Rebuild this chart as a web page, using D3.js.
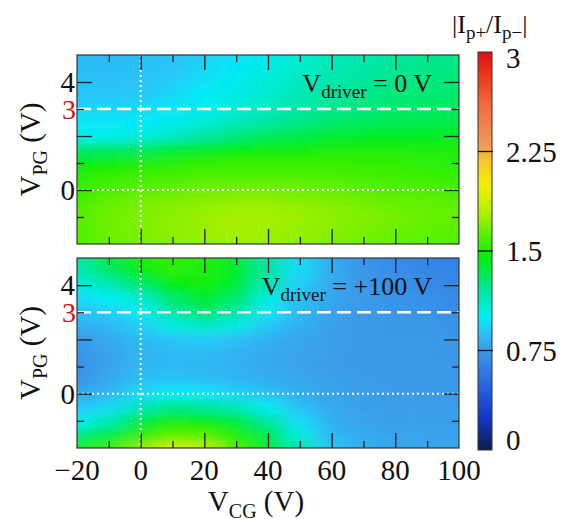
<!DOCTYPE html>
<html>
  <head>
    <meta charset="utf-8">
    <script src="https://d3js.org/d3.v7.min.js"></script>
    <style>
      body { margin: 0; background: #fff; }
      text { font-family: "Liberation Serif", "Times New Roman", serif; fill: #111; }
    </style>
  </head>
  <body>
    <svg width="571" height="519" id="svg1"></svg>
    <script>

    // grid of the two maps: V_CG columns, V_PG rows (top row = 5 V)
    var vcg = [-20, -10, 0, 10, 20, 30, 40, 50, 60, 70, 80, 90, 100];
    var vpg = [5, 4.5, 4, 3.5, 3, 2.5, 2, 1.5, 1, 0.5, 0, -0.5, -1, -1.5, -2];

    // |Ip+/Ip-| , V_driver = 0 V
    var ratioDriver0 = [
      [0.86,0.86,0.87,0.89,0.92,0.97,1.02,1.08,1.13,1.17,1.20,1.22,1.24],
      [0.87,0.87,0.88,0.90,0.94,0.99,1.05,1.10,1.15,1.19,1.22,1.24,1.26],
      [0.88,0.88,0.89,0.92,0.97,1.02,1.08,1.13,1.18,1.21,1.24,1.26,1.28],
      [0.90,0.90,0.91,0.94,1.00,1.05,1.10,1.16,1.20,1.24,1.27,1.28,1.30],
      [0.94,0.94,0.95,0.98,1.02,1.08,1.13,1.19,1.23,1.27,1.30,1.31,1.32],
      [0.98,0.98,0.99,1.03,1.08,1.14,1.20,1.25,1.29,1.32,1.34,1.35,1.36],
      [1.02,1.03,1.06,1.12,1.20,1.27,1.32,1.36,1.39,1.41,1.42,1.42,1.42],
      [1.30,1.30,1.32,1.38,1.42,1.45,1.47,1.48,1.50,1.50,1.50,1.50,1.50],
      [1.45,1.48,1.50,1.52,1.54,1.55,1.55,1.55,1.55,1.55,1.54,1.53,1.52],
      [1.52,1.55,1.57,1.58,1.60,1.60,1.60,1.60,1.59,1.58,1.57,1.56,1.55],
      [1.55,1.60,1.62,1.64,1.66,1.67,1.67,1.66,1.64,1.62,1.60,1.60,1.58],
      [1.58,1.64,1.67,1.70,1.72,1.74,1.74,1.72,1.70,1.67,1.64,1.63,1.62],
      [1.60,1.66,1.69,1.72,1.75,1.77,1.77,1.75,1.72,1.70,1.67,1.65,1.63],
      [1.60,1.66,1.69,1.72,1.75,1.77,1.76,1.74,1.71,1.68,1.65,1.63,1.62],
      [1.58,1.64,1.68,1.71,1.73,1.75,1.74,1.72,1.69,1.66,1.64,1.62,1.60]
    ];

    // |Ip+/Ip-| , V_driver = +100 V
    var ratioDriver100 = [
      [1.20,1.35,1.50,1.55,1.50,1.40,1.20,0.95,0.80,0.72,0.68,0.65,0.63],
      [1.15,1.30,1.45,1.52,1.50,1.42,1.20,0.95,0.80,0.73,0.69,0.66,0.64],
      [1.05,1.15,1.30,1.45,1.48,1.40,1.15,0.92,0.80,0.74,0.70,0.68,0.66],
      [0.95,1.00,1.10,1.30,1.40,1.30,1.05,0.88,0.79,0.75,0.72,0.70,0.68],
      [0.88,0.92,1.00,1.20,1.30,1.20,0.98,0.85,0.78,0.75,0.73,0.72,0.70],
      [0.82,0.85,0.92,1.05,1.12,1.05,0.90,0.82,0.77,0.75,0.74,0.73,0.72],
      [0.75,0.80,0.86,0.90,0.92,0.88,0.83,0.79,0.76,0.75,0.74,0.74,0.73],
      [0.72,0.78,0.84,0.86,0.86,0.84,0.80,0.78,0.76,0.75,0.75,0.74,0.74],
      [0.70,0.78,0.85,0.86,0.85,0.83,0.80,0.78,0.76,0.75,0.75,0.75,0.74],
      [0.72,0.80,0.88,0.90,0.88,0.85,0.82,0.79,0.77,0.76,0.75,0.75,0.75],
      [0.80,0.85,0.95,1.00,0.98,0.94,0.88,0.82,0.78,0.76,0.76,0.75,0.75],
      [0.90,0.95,1.15,1.25,1.22,1.15,1.02,0.88,0.80,0.77,0.76,0.76,0.76],
      [1.00,1.15,1.38,1.48,1.45,1.38,1.20,0.95,0.82,0.78,0.77,0.77,0.77],
      [1.25,1.35,1.52,1.62,1.60,1.50,1.35,1.05,0.85,0.80,0.78,0.78,0.78],
      [1.50,1.55,1.72,1.88,1.80,1.58,1.42,1.15,0.90,0.82,0.79,0.79,0.79]
    ];

    var xTicks = [-20, 0, 20, 40, 60, 80, 100];
    var yTickLabels = [0, 4];
    var cbarTicks = [0, 0.75, 1.5, 2.25, 3];

    // colour map stops
    var cmapValues = [0, 0.25, 0.5, 0.75, 0.9, 1.0, 1.2, 1.45, 1.6, 1.8, 2.0, 2.2, 2.3, 2.6, 2.85, 3.0];
    var cmapColors = ["#0b1d4f", "#1238c8", "#2a66e0", "#3b9ae9", "#28c6f8", "#00eef8", "#00e6a0", "#00ee10",
                      "#50f000", "#b4f000", "#f4f000", "#f8c030", "#f29a58", "#f26a40", "#ec3018", "#dc1010"];

    var svg = d3.select("#svg1");
    var color = d3.scaleLinear().domain(cmapValues).range(cmapColors).clamp(true);

    var xScale = d3.scaleLinear().domain([-20, 100]).range([77, 459]);
    var panels = [
      { data: ratioDriver0, top: 55, bottom: 244, label: " = 0 V", ly: 92 },
      { data: ratioDriver100, top: 258, bottom: 448, label: " = +100 V", ly: 295 }
    ];

    var defs = svg.append("defs");
    defs.append("filter")
        .attr("id", "smooth")
        .attr("filterUnits", "userSpaceOnUse")
        .attr("x", 0).attr("y", 0).attr("width", 571).attr("height", 519)
      .append("feGaussianBlur")
        .attr("stdDeviation", "11 5");

    // cell edges halfway between grid points, outer edges pushed out
    function edges(vals, scale, pad) {
      var px = vals.map(scale);
      return px.map(function(p, i) {
        var lo = i > 0 ? (p + px[i - 1]) / 2 : p - (px[1] - p) / 2 - pad * Math.sign(px[1] - p);
        var hi = i < px.length - 1 ? (p + px[i + 1]) / 2 : p + (p - px[i - 1]) / 2 + pad * Math.sign(p - px[i - 1]);
        return [Math.min(lo, hi), Math.max(lo, hi)];
      });
    }

    panels.forEach(function(pn, k) {
      var yScale = d3.scaleLinear().domain([-2, 5]).range([pn.bottom, pn.top]);
      var x0 = xScale.range()[0], x1 = xScale.range()[1];

      defs.append("clipPath").attr("id", "clip" + k)
        .append("rect")
        .attr("x", x0).attr("y", pn.top)
        .attr("width", x1 - x0).attr("height", pn.bottom - pn.top);

      var xe = edges(vcg, xScale, 30), ye = edges(vpg, yScale, 20);
      var cells = [];
      pn.data.forEach(function(row, r) {
        row.forEach(function(v, c) { cells.push({ r: r, c: c, v: v }); });
      });

      svg.append("g").attr("clip-path", "url(#clip" + k + ")")
        .append("g").attr("filter", "url(#smooth)")
        .selectAll("rect")
        .data(cells)
        .enter().append("rect")
        .attr("x", function(d) { return xe[d.c][0]; })
        .attr("y", function(d) { return ye[d.r][0]; })
        .attr("width", function(d) { return xe[d.c][1] - xe[d.c][0] + 0.5; })
        .attr("height", function(d) { return ye[d.r][1] - ye[d.r][0] + 0.5; })
        .attr("fill", function(d) { return color(d.v); });

      var g = svg.append("g");

      // guide lines
      g.append("line")
        .attr("x1", x0).attr("x2", x1)
        .attr("y1", yScale(3)).attr("y2", yScale(3))
        .attr("stroke", "#fff").attr("stroke-width", 2.5)
        .attr("stroke-dasharray", "14,6");
      g.append("line")
        .attr("x1", x0).attr("x2", x1)
        .attr("y1", yScale(0)).attr("y2", yScale(0))
        .attr("stroke", "#fff").attr("stroke-width", 2)
        .attr("stroke-dasharray", "2,3");
      g.append("line")
        .attr("x1", xScale(0)).attr("x2", xScale(0))
        .attr("y1", pn.top).attr("y2", pn.bottom)
        .attr("stroke", "#fff").attr("stroke-width", 2)
        .attr("stroke-dasharray", "2,3");

      // ticks inside on all four sides: long every 20 V / 2 V, short in between
      var xMinor = [-10, 10, 30, 50, 70, 90], xMajor = [0, 20, 40, 60, 80];
      var yMinor = [-1, 1, 3], yMajor = [0, 2, 4];
      g.append("g").call(d3.axisBottom(xScale).tickValues(xMinor).tickSize(-7).tickFormat(""))
        .attr("transform", "translate(0," + pn.bottom + ")");
      g.append("g").call(d3.axisBottom(xScale).tickValues(xMajor).tickSize(-15).tickFormat(""))
        .attr("transform", "translate(0," + pn.bottom + ")");
      g.append("g").call(d3.axisTop(xScale).tickValues(xMinor).tickSize(-7).tickFormat(""))
        .attr("transform", "translate(0," + pn.top + ")");
      g.append("g").call(d3.axisTop(xScale).tickValues(xMajor).tickSize(-15).tickFormat(""))
        .attr("transform", "translate(0," + pn.top + ")");
      g.append("g").call(d3.axisLeft(yScale).tickValues(yMinor).tickSize(-7).tickFormat(""))
        .attr("transform", "translate(" + x0 + ",0)");
      g.append("g").call(d3.axisLeft(yScale).tickValues(yMajor).tickSize(-15).tickFormat(""))
        .attr("transform", "translate(" + x0 + ",0)");
      g.append("g").call(d3.axisRight(yScale).tickValues(yMinor).tickSize(-7).tickFormat(""))
        .attr("transform", "translate(" + x1 + ",0)");
      g.append("g").call(d3.axisRight(yScale).tickValues(yMajor).tickSize(-15).tickFormat(""))
        .attr("transform", "translate(" + x1 + ",0)");
      g.selectAll(".domain").remove();
      g.selectAll(".tick line").attr("stroke", "#222").attr("stroke-width", 1.3);

      g.append("rect")
        .attr("x", x0).attr("y", pn.top)
        .attr("width", x1 - x0).attr("height", pn.bottom - pn.top)
        .attr("fill", "none").attr("stroke", "#333").attr("stroke-width", 1.2);

      // y labels
      g.selectAll(".ylab")
        .data(yTickLabels)
        .enter().append("text")
        .attr("x", x0 - 2)
        .attr("y", function(d) { return yScale(d) + 10; })
        .attr("text-anchor", "end")
        .attr("font-size", "29px")
        .text(function(d) { return d; });
      g.append("text")
        .attr("x", x0 - 1)
        .attr("y", yScale(3) + 10)
        .attr("text-anchor", "end")
        .attr("font-size", "28px")
        .style("fill", "#d01010")
        .text("3");

      // y title
      var yt = g.append("text")
        .attr("transform", "translate(40," + ((pn.top + pn.bottom) / 2) + ") rotate(-90)")
        .attr("text-anchor", "middle")
        .attr("font-size", "29px");
      yt.append("tspan").text("V");
      yt.append("tspan").attr("font-size", "20px").attr("dy", 7).text("PG");
      yt.append("tspan").attr("dy", -7).text(" (V)");

      // panel annotation
      var an = g.append("text")
        .attr("x", 432).attr("y", pn.ly)
        .attr("text-anchor", "end")
        .attr("font-size", "26px");
      an.append("tspan").text("V");
      an.append("tspan").attr("font-size", "19px").attr("dy", 6).text("driver");
      an.append("tspan").attr("dy", -6).text(pn.label);
    });

    // x labels under the lower panel
    svg.selectAll(".xlab")
      .data(xTicks)
      .enter().append("text")
      .attr("x", function(d) { return xScale(d); })
      .attr("y", 480)
      .attr("text-anchor", "middle")
      .attr("font-size", "29px")
      .text(function(d) { return d < 0 ? "\u2212" + Math.abs(d) : d; });

    var xt = svg.append("text")
      .attr("x", 256).attr("y", 511)
      .attr("text-anchor", "middle")
      .attr("font-size", "29px");
    xt.append("tspan").text("V");
    xt.append("tspan").attr("font-size", "20px").attr("dy", 7).text("CG");
    xt.append("tspan").attr("dy", -7).text(" (V)");

    // colour bar
    var cScale = d3.scaleLinear().domain([0, 3]).range([450, 52]);
    var grad = defs.append("linearGradient")
      .attr("id", "cbar").attr("x1", 0).attr("y1", 1).attr("x2", 0).attr("y2", 0);
    grad.selectAll("stop")
      .data(cmapValues)
      .enter().append("stop")
      .attr("offset", function(d) { return d / 3; })
      .attr("stop-color", function(d) { return color(d); });

    svg.append("rect")
      .attr("x", 478).attr("y", cScale(3))
      .attr("width", 14).attr("height", cScale(0) - cScale(3))
      .attr("fill", "url(#cbar)")
      .attr("stroke", "#333").attr("stroke-width", 1);

    svg.selectAll(".ctick")
      .data(cbarTicks.slice(1, 4))
      .enter().append("line")
      .attr("x1", 478).attr("x2", 493)
      .attr("y1", function(d) { return cScale(d); })
      .attr("y2", function(d) { return cScale(d); })
      .attr("stroke", "#111").attr("stroke-width", 1.3);

    // end labels sit inside the bar's span
    svg.selectAll(".clab")
      .data(cbarTicks)
      .enter().append("text")
      .attr("x", 506)
      .attr("y", function(d) { return cScale(d) + (d === 3 ? 16 : d === 0 ? 0 : 10); })
      .attr("font-size", "29px")
      .text(function(d) { return d; });

    var ct = svg.append("text")
      .attr("x", 452).attr("y", 33)
      .attr("font-size", "26px");
    ct.append("tspan").text("|I");
    ct.append("tspan").attr("font-size", "19px").attr("dy", 6).text("p+");
    ct.append("tspan").attr("dy", -6).text("/I");
    ct.append("tspan").attr("font-size", "19px").attr("dy", 6).text("p\u2212");
    ct.append("tspan").attr("dy", -6).text("|");

    </script>
  </body>
</html>
